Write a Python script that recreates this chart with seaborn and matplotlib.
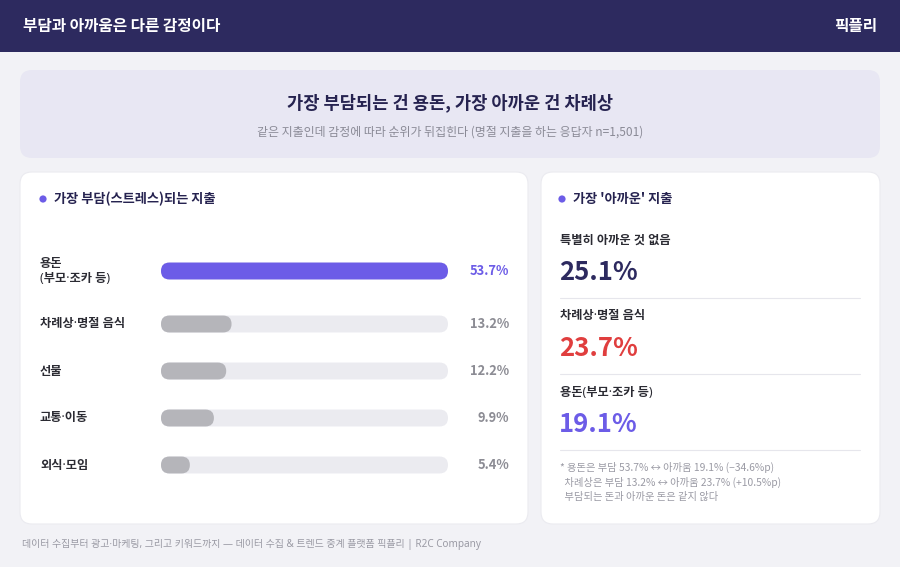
import numpy as np
import pandas as pd
import matplotlib
matplotlib.use("Agg")
import matplotlib.pyplot as plt
from matplotlib.patches import FancyBboxPatch, Circle
import seaborn as sns

# 데이터
burden_labels = ["용돈\n(부모·조카 등)", "차례상·명절 음식", "선물", "교통·이동", "외식·모임"]
burden_values = [53.7, 13.2, 12.2, 9.9, 5.4]
waste_labels = ["특별히 아까운 것 없음", "차례상·명절 음식", "용돈(부모·조카 등)"]
waste_values = [25.1, 23.7, 19.1]
notes = ["* 용돈은 부담 53.7% ↔ 아까움 19.1% (−34.6%p)",
         "  차례상은 부담 13.2% ↔ 아까움 23.7% (+10.5%p)",
         "  부담되는 돈과 아까운 돈은 같지 않다"]

sns.set_theme(style="white")
plt.rcParams['font.family'] = ['Noto Sans CJK KR', 'DejaVu Sans']
LABEL_FONT = ['Noto Sans', 'Noto Sans CJK KR', 'DejaVu Sans']  # 좁은 가운뎃점

NAVY = "#2d2a5f"
PURPLE = "#6c5ce7"
RED = "#e03e3e"
GREY_BAR = "#b5b5ba"
TRACK = "#ebebf0"
W, H = 900, 567

fig = plt.figure(figsize=(9, 5.67), dpi=100)
fig.patch.set_facecolor("#f2f2f6")
cv = fig.add_axes([0, 0, 1, 1])
cv.set_xlim(0, W)
cv.set_ylim(H, 0)
cv.axis("off")


def box(x, y, w, h, color, r=12, z=1, ec="none"):
    cv.add_patch(FancyBboxPatch((x, y), w, h, boxstyle=f"round,pad=0,rounding_size={r}",
                                fc=color, ec=ec, lw=0.8, zorder=z))


# 헤더
cv.add_patch(plt.Rectangle((0, 0), W, 52, fc=NAVY, ec="none", zorder=1))
cv.text(23, 26, "부담과 아까움은 다른 감정이다", color="white", fontsize=11.3, weight="bold", va="center")
cv.text(877, 26, "픽플리", color="white", fontsize=11.3, weight="bold", va="center", ha="right")

# 배너
box(20, 70, 860, 88, "#e8e7f3")
cv.text(450, 103, "가장 부담되는 건 용돈, 가장 아까운 건 차례상", color="#262350",
        fontsize=12.7, weight="bold", ha="center", va="center", zorder=3)
cv.text(450, 132, "같은 지출인데 감정에 따라 순위가 뒤집힌다 (명절 지출을 하는 응답자 n=1,501)",
        color="#8a8a96", fontsize=8.6, ha="center", va="center", zorder=3)

# 카드
box(20, 172, 508, 352, "white", ec="#ebebf0")
box(541, 172, 339, 352, "white", ec="#ebebf0")

# 왼쪽 카드 제목
cv.add_patch(Circle((43, 199), 3.6, fc=PURPLE, ec="none", zorder=3))
cv.text(54, 199, "가장 부담(스트레스)되는 지출", color="#262350", fontsize=9.5,
        weight="bold", va="center", zorder=3)

# 막대 (seaborn)
x0, x1 = 161, 448
top, slot = 253.5, 47
first_shift = -6  # 두 줄 라벨이라 첫 줄만 조금 위로
ax = fig.add_axes([x0 / W, 1 - (top + 5 * slot) / H, (x1 - x0) / W, 5 * slot / H])
df = pd.DataFrame({"label": burden_labels, "value": burden_values,
                   "track": [max(burden_values)] * len(burden_values)})
sns.barplot(data=df, y="label", x="track", color=TRACK, width=0.36, ax=ax,
            orient="h", saturation=1)
n_track = len(ax.patches)
bar_colors = [PURPLE] + [GREY_BAR] * (len(burden_values) - 1)
sns.barplot(data=df, y="label", x="value", hue="label", palette=bar_colors,
            width=0.36, ax=ax, orient="h", legend=False, saturation=1)
ax.set_xlim(0, max(burden_values))
ax.set_ylim(len(burden_values) - 0.5, -0.5)
ax.axis("off")

# 둥근 막대로 다시 그리기
fig.canvas.draw()
inv = cv.transData.inverted()
for i, p in enumerate(ax.patches):
    bb = p.get_window_extent()
    (ax_, ay_), (bx_, by_) = inv.transform([[bb.x0, bb.y0], [bb.x1, bb.y1]])
    px, py = min(ax_, bx_), min(ay_, by_)
    pw, ph = abs(bx_ - ax_), abs(by_ - ay_)
    p.set_visible(False)
    if pw <= 0:
        continue
    row = i % n_track
    if row == 0:
        py += first_shift
    box(px, py, pw, ph, p.get_facecolor(), r=ph / 2, z=3 if i >= n_track else 2)

for i, (lab, val) in enumerate(zip(burden_labels, burden_values)):
    yc = top + (i + 0.5) * slot + (first_shift if i == 0 else 0)
    cv.text(40, yc, lab, color="#2b2b33", fontsize=8.8, weight="bold", va="center",
            linespacing=1.25, zorder=3, family=LABEL_FONT)
    cv.text(509, yc, f"{val}%", color=PURPLE if i == 0 else "#8c8c94",
            fontsize=9.3, weight="bold", ha="right", va="center", zorder=3)

# 오른쪽 카드
cv.add_patch(Circle((562, 199), 3.6, fc=PURPLE, ec="none", zorder=3))
cv.text(573, 199, "가장 '아까운' 지출", color="#262350", fontsize=9.5,
        weight="bold", va="center", zorder=3)
val_colors = [NAVY, RED, PURPLE]
for i, (lab, val) in enumerate(zip(waste_labels, waste_values)):
    y = 240 + i * 76
    cv.text(560, y, lab, color="#2b2b33", fontsize=8.8, weight="bold", va="center",
            zorder=3, family=LABEL_FONT)
    cv.text(559, y + 32, f"{val}%", color=val_colors[i], fontsize=18.5,
            weight="bold", va="center", zorder=3)
    cv.plot([560, 860], [y + 58, y + 58], color="#e6e6ec", lw=0.8, zorder=3)
for j, line in enumerate(notes):
    cv.text(560, 467 + j * 15, line, color="#9a9aa4", fontsize=7.4, va="center", zorder=3)

# 푸터
cv.text(22, 545, "데이터 수집부터 광고·마케팅, 그리고 키워드까지 — 데이터 수집 & 트렌드 중계 플랫폼 픽플리 | R2C Company",
        color="#9a9aa4", fontsize=7.2, va="center", family=LABEL_FONT)

fig.savefig("out.png", dpi=100, facecolor=fig.get_facecolor())
